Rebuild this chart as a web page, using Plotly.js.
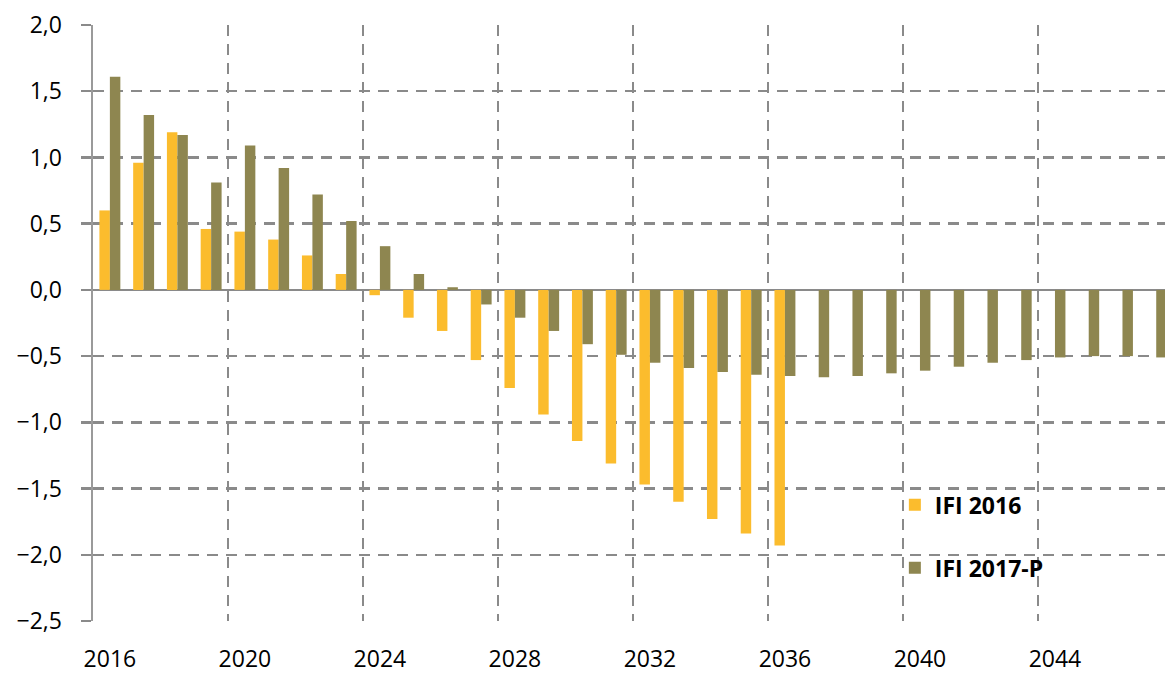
<!DOCTYPE html>
<html>
<head>
<meta charset="utf-8">
<script src="https://cdn.plot.ly/plotly-3.0.1.min.js"></script>
<style>html,body{margin:0;padding:0;background:#fff;}#chart{width:1165px;height:675px;}</style>
</head>
<body>
<div id="chart"></div>
<script>
const years = [2016,2017,2018,2019,2020,2021,2022,2023,2024,2025,2026,2027,2028,2029,2030,2031,2032,2033,2034,2035,2036,2037,2038,2039,2040,2041,2042,2043,2044,2045,2046,2047];
const ifi2016 = [0.60,0.96,1.19,0.46,0.44,0.38,0.26,0.12,-0.04,-0.21,-0.31,-0.53,-0.74,-0.94,-1.14,-1.31,-1.47,-1.60,-1.73,-1.84,-1.93,null,null,null,null,null,null,null,null,null,null,null];
const ifi2017P = [1.61,1.32,1.17,0.81,1.09,0.92,0.72,0.52,0.33,0.12,0.02,-0.11,-0.21,-0.31,-0.41,-0.49,-0.55,-0.59,-0.62,-0.64,-0.65,-0.66,-0.65,-0.63,-0.61,-0.58,-0.55,-0.53,-0.51,-0.50,-0.50,-0.51];
const xTicks = [2016,2020,2024,2028,2032,2036,2040,2044];
const gridX = [2015.5,2019.5,2023.5,2027.5,2031.5,2035.5,2039.5,2043.5];
const yTicks = [2.0,1.5,1.0,0.5,0.0,-0.5,-1.0,-1.5,-2.0,-2.5];
const seriesNames = ['IFI 2016','IFI 2017-P'];
const colors = ['#FBBC2D','#8E8650'];

const font = 'Open Sans, Noto Sans, sans-serif';
const gridColor = '#8a8a8a';
const xRange = [2015.5, 2047.26];

const traces = [
  {type:'bar', x: years, y: ifi2016, name: seriesNames[0], marker:{color:colors[0]}, legendgroup:'a'},
  {type:'bar', x: years, y: ifi2017P, name: seriesNames[1], marker:{color:colors[1]}, legendgroup:'b'},
  {type:'scatter', x:[xRange[0]], y:[null], xaxis:'x2', showlegend:false, hoverinfo:'skip'}
];

const layout = {
  width: 1165, height: 675,
  margin: {l: 93, r: 0, t: 25, b: 54},
  paper_bgcolor: '#fff', plot_bgcolor: '#fff',
  font: {family: font, size: 23, color: '#000'},
  separators: ',.',
  barmode: 'group',
  bargap: 0.38,
  bargroupgap: 0,
  showlegend: true,
  legend: {
    x: 0.748, y: 0.142, xanchor: 'left', yanchor: 'middle',
    font: {family: font, size: 23, color: '#000', weight: 'bold'},
    bgcolor: 'rgba(0,0,0,0)',
    tracegroupgap: 30,
    itemwidth: 30
  },
  xaxis: {
    range: xRange,
    tickmode: 'array', tickvals: xTicks, ticktext: xTicks.map(String),
    showgrid: false, zeroline: false, showline: false,
    ticks: '', tickfont: {size: 23}, ticklabelstandoff: 22
  },
  xaxis2: {
    overlaying: 'x', range: xRange,
    tickmode: 'array', tickvals: gridX,
    showgrid: true, gridcolor: gridColor, gridwidth: 2.5, griddash: '11px,8px',
    showticklabels: false, ticks: '', zeroline: false, showline: false
  },
  yaxis: {
    range: [-2.5, 2.0],
    tickmode: 'array', tickvals: yTicks,
    tickformat: '.1f',
    showgrid: true, gridcolor: gridColor, gridwidth: 2.5, griddash: '11px,8px',
    zeroline: true, zerolinecolor: gridColor, zerolinewidth: 2.5,
    showline: true, linecolor: '#9a9a9a', linewidth: 2.5,
    ticks: 'outside', ticklen: 10, tickcolor: gridColor, tickwidth: 2.5,
    tickfont: {size: 23}, ticklabelstandoff: 14
  }
};

Plotly.newPlot('chart', traces, layout, {displayModeBar: false, staticPlot: true});
</script>
</body>
</html>
